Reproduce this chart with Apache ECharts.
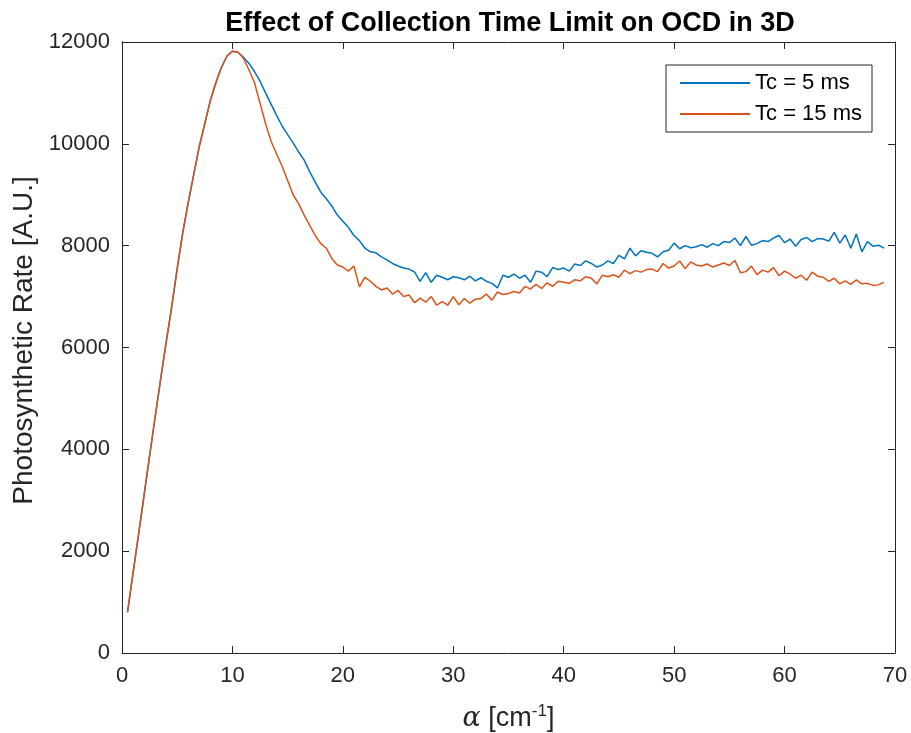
<!DOCTYPE html>
<html>
<head>
<meta charset="utf-8">
<script src="https://cdn.jsdelivr.net/npm/echarts@6/dist/echarts.min.js"></script>
<style>html,body{margin:0;padding:0;background:#fff}#c{width:911px;height:733px}</style>
</head>
<body>
<div id="c"></div>
<script>
var alphaValues = [0.5,1,1.5,2,2.5,3,3.5,4,4.5,5,5.5,6,6.5,7,7.5,8,8.5,9,9.5,10,10.5,
11,11.5,12,12.5,13,13.5,14,14.5,15,15.5,16,16.5,17,17.5,18,18.5,19,19.5,20,20.5,
21,21.5,22,22.5,23,23.5,24,24.5,25,25.5,26,26.5,27,27.5,28,28.5,29,29.5,30,30.5,
31,31.5,32,32.5,33,33.5,34,34.5,35,35.5,36,36.5,37,37.5,38,38.5,39,39.5,40,40.5,
41,41.5,42,42.5,43,43.5,44,44.5,45,45.5,46,46.5,47,47.5,48,48.5,49,49.5,50,50.5,
51,51.5,52,52.5,53,53.5,54,54.5,55,55.5,56,56.5,57,57.5,58,58.5,59,59.5,60,60.5,
61,61.5,62,62.5,63,63.5,64,64.5,65,65.5,66,66.5,67,67.5,68,68.5,69];

var tc5Values = [800,1570,2330,3100,3870,4630,5380,6100,6800,7550,8250,8850,9400,9950,10400,10850,11200,11500,11720,11820,11800,
11700,11580,11420,11230,11000,10780,10560,10350,10180,10020,9840,9680,9450,9250,9050,8920,8780,8600,8480,8360,
8200,8100,7950,7880,7860,7780,7720,7650,7600,7560,7540,7480,7300,7470,7280,7420,7380,7330,7390,7370,
7330,7400,7310,7370,7300,7260,7170,7420,7380,7440,7360,7420,7280,7500,7480,7390,7570,7530,7560,7500,
7640,7610,7700,7650,7580,7620,7700,7650,7810,7740,7950,7800,7900,7870,7850,7780,7880,7910,8050,7940,
8000,7960,7980,8020,7970,8040,8000,8080,8060,8150,8000,8180,8010,8040,8100,8080,8150,8200,8060,8130,
7990,8120,8160,8080,8140,8130,8090,8260,8050,8210,7950,8230,7880,8080,7990,8010,7950];

var tc15Values = [800,1570,2330,3100,3870,4630,5380,6100,6800,7550,8250,8850,9400,9950,10400,10850,11200,11500,11720,11820,11800,
11680,11450,11200,10800,10400,10050,9800,9560,9280,9000,8820,8600,8400,8200,8040,7950,7750,7620,7580,7500,
7600,7190,7380,7300,7200,7130,7170,7050,7120,7000,7030,6880,6970,6890,7000,6830,6900,6830,7000,6840,
6960,6870,6950,6960,7050,6930,7090,7040,7060,7100,7070,7200,7150,7240,7160,7270,7200,7300,7280,7260,
7330,7310,7390,7360,7250,7420,7390,7430,7380,7520,7450,7510,7480,7530,7540,7490,7650,7560,7600,7700,
7550,7680,7620,7600,7640,7580,7620,7660,7610,7710,7470,7490,7600,7430,7520,7480,7570,7410,7500,7440,
7360,7420,7320,7480,7400,7380,7300,7360,7250,7310,7240,7330,7250,7260,7220,7230,7280];

var seriesNames = ['Tc = 5 ms', 'Tc = 15 ms'];
var xTicks = [0,10,20,30,40,50,60,70];
var yTicks = [0,2000,4000,6000,8000,10000,12000];

function pairs(vals){ return alphaValues.map(function(x,i){ return [x, vals[i]]; }); }

var FONT = 'Liberation Sans';
var AX = '#262626';
var chart = echarts.init(document.getElementById('c'), null, {renderer:'canvas'});

function axisCommon(extra){
  return Object.assign({
    axisLine:{show:true, onZero:false, lineStyle:{color:AX, width:1}},
    axisTick:{show:true, inside:true, length:7, lineStyle:{color:AX, width:1}},
    splitLine:{show:false}
  }, extra);
}

chart.setOption({
  animation:false,
  backgroundColor:'#fff',
  title:{
    text:'Effect of Collection Time Limit on OCD in 3D',
    left:505, top:5, textAlign:'center',
    textStyle:{fontFamily:FONT, fontSize:27, fontWeight:'bold', color:'#000'}
  },
  grid:{left:122, right:16, top:42, bottom:80, containLabel:false, outerBoundsMode:'none'},
  legend:{
    data:seriesNames,
    orient:'vertical',
    right:39, top:65,
    backgroundColor:'#fff',
    borderColor:AX, borderWidth:1,
    padding:[7,10,7,14],
    itemGap:9,
    itemWidth:70, itemHeight:2,
    icon:'rect',
    textStyle:{fontFamily:FONT, fontSize:22, color:'#000'}
  },
  xAxis:[
    axisCommon({
      type:'value', min:0, max:70, interval:10, position:'bottom',
      name:'{a|α} [cm{s|-1}]', nameLocation:'middle', nameGap:50,
      nameTextStyle:{fontFamily:FONT, fontSize:27, color:AX,
        rich:{a:{fontFamily:'DejaVu Serif', fontStyle:'italic', fontSize:27, color:AX},
              s:{fontFamily:FONT, fontSize:17, verticalAlign:'top', padding:[0,0,14,0], color:AX}}},
      axisLabel:{fontFamily:FONT, fontSize:22, color:AX, margin:12}
    }),
    axisCommon({
      type:'value', min:0, max:70, interval:10, position:'top',
      axisLabel:{show:false}
    })
  ],
  yAxis:[
    axisCommon({
      type:'value', min:0, max:12000, interval:2000, position:'left',
      name:'Photosynthetic Rate [A.U.]', nameLocation:'middle', nameGap:84,
      nameTextStyle:{fontFamily:FONT, fontSize:28, color:AX, padding:[0,0,0,14]},
      axisLabel:{fontFamily:FONT, fontSize:22, color:AX, margin:12,
        formatter:function(v){ return String(v); }}
    }),
    axisCommon({
      type:'value', min:0, max:12000, interval:2000, position:'right',
      axisLabel:{show:false}
    })
  ],
  series:[
    {name:seriesNames[0], type:'line', data:pairs(tc5Values), showSymbol:false, symbol:'none',
     lineStyle:{color:'#0072BD', width:1.5}, itemStyle:{color:'#0072BD'}, z:2},
    {name:seriesNames[1], type:'line', data:pairs(tc15Values), showSymbol:false, symbol:'none',
     lineStyle:{color:'#D95319', width:1.5}, itemStyle:{color:'#D95319'}, z:3}
  ]
});
</script>
</body>
</html>
